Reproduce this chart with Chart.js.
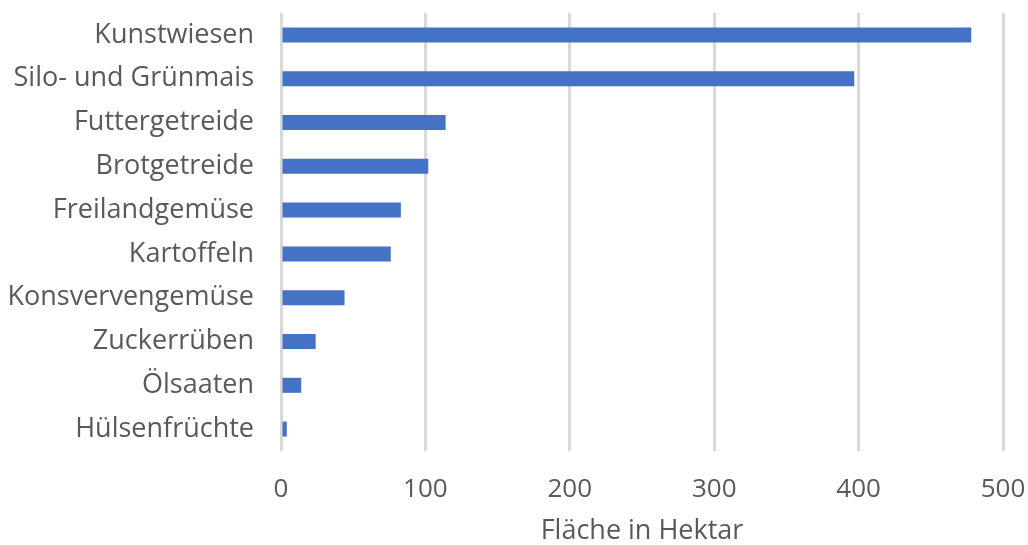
<!DOCTYPE html>
<html>
<head>
<meta charset="utf-8">
<script src="https://cdn.jsdelivr.net/npm/chart.js@4"></script>
<style>
  html, body { margin: 0; padding: 0; background: #fff; }
  #wrap { width: 1028px; height: 545px; }
</style>
</head>
<body>
<div id="wrap"><canvas id="chart"></canvas></div>
<script>
// Anbaufläche nach Kultur (Hektar)
const categories = ['Kunstwiesen', 'Silo- und Grünmais', 'Futtergetreide', 'Brotgetreide', 'Freilandgemüse',
    'Kartoffeln', 'Konsvervengemüse', 'Zuckerrüben', 'Ölsaaten', 'Hülsenfrüchte'];
const areaValues = [478, 397, 114, 102, 83, 76, 44, 24, 14, 4];
const xTicks = [0, 100, 200, 300, 400, 500];
const xTitle = 'Fläche in Hektar';

const textColor = '#595959';
const fontFamily = '"Open Sans", sans-serif';

new Chart(document.getElementById('chart').getContext('2d'), {
    type: 'bar',
    data: {
        labels: categories,
        datasets: [{
            data: areaValues,
            backgroundColor: '#4472c4',
            borderWidth: 0,
            barPercentage: 0.7,
            categoryPercentage: 0.49
        }]
    },
    options: {
        indexAxis: 'y',
        responsive: true,
        maintainAspectRatio: false,
        animation: false,
        layout: { padding: { top: 13, right: 25, left: 0, bottom: 0 } },
        plugins: {
            legend: { display: false },
            tooltip: { enabled: false }
        },
        scales: {
            x: {
                min: 0,
                max: 500,
                afterBuildTicks: scale => { scale.ticks = xTicks.map(v => ({ value: v })); },
                // keep the plot area where the reference has it
                afterFit: scale => {
                    scale.height = 94;
                    scale.paddingLeft = 0;
                    scale.paddingRight = 0;
                },
                grid: { color: '#d9d9d9', lineWidth: 3, drawTicks: false },
                border: { display: false },
                ticks: { color: textColor, font: { family: fontFamily, size: 26 }, padding: 23 },
                title: {
                    display: true, text: xTitle, color: textColor,
                    font: { family: fontFamily, size: 27, lineHeight: 1.0 },
                    padding: { top: 10, bottom: 0 }
                }
            },
            y: {
                // fixed label column, no extra top/bottom room for the labels
                afterFit: scale => {
                    scale.width = 281;
                    scale.paddingTop = 0;
                    scale.paddingBottom = 0;
                },
                grid: { display: false, drawTicks: false },
                border: { display: false },
                ticks: { color: textColor, font: { family: fontFamily, size: 27 }, padding: 27 }
            }
        }
    }
});
</script>
</body>
</html>
